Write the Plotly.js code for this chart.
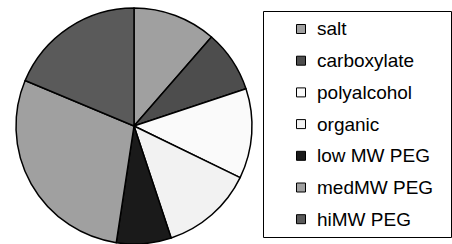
<!DOCTYPE html>
<html>
<head>
<meta charset="utf-8">
<script src="https://cdn.plot.ly/plotly-3.0.1.min.js"></script>
<style>html,body{margin:0;padding:0;background:#fff;overflow:hidden}#chart{width:452px;height:244px}</style>
</head>
<body>
<div id="chart"></div>
<script>
var labels = ["salt", "carboxylate", "polyalcohol", "organic", "low MW PEG", "medMW PEG", "hiMW PEG"];
var values = [11.4, 8.5, 12.3, 12.7, 7.5, 28.9, 18.7];
var colors = ["#a0a0a0", "#4d4d4d", "#fafafa", "#f2f2f2", "#1a1a1a", "#a0a0a0", "#5a5a5a"];

var W = 452, H = 244;
function px(x) { return x / W; }
function py(y) { return 1 - y / H; }

var shapes = [];
var annotations = [];
// legend box
shapes.push({type: "rect", xref: "paper", yref: "paper",
  x0: px(263.5), x1: px(451.5), y0: py(11.5), y1: py(237.5),
  line: {color: "#000", width: 1}, fillcolor: "rgba(0,0,0,0)"});
var top0 = 29, step = 31.7;
for (var i = 0; i < labels.length; i++) {
  var cy = top0 + i * step;
  shapes.push({type: "rect", xref: "paper", yref: "paper",
    x0: px(296.5), x1: px(305.5), y0: py(cy - 4.5), y1: py(cy + 4.5),
    line: {color: "#000", width: 1}, fillcolor: colors[i]});
  annotations.push({xref: "paper", yref: "paper", x: px(315), y: py(cy),
    xanchor: "left", yanchor: "middle", showarrow: false, text: labels[i],
    font: {family: "Liberation Sans, Arial, sans-serif", size: 19, color: "#000"}});
}

var trace = {
  type: "pie",
  labels: labels,
  values: values,
  sort: false,
  direction: "clockwise",
  rotation: 0,
  textinfo: "none",
  hoverinfo: "none",
  showlegend: false,
  marker: {colors: colors, line: {color: "#000", width: 1.5}},
  domain: {x: [px(16), px(252)], y: [0, py(8)]}
};

Plotly.newPlot("chart", [trace], {
  width: W, height: H,
  margin: {l: 0, r: 0, t: 0, b: 0},
  paper_bgcolor: "#fff",
  showlegend: false,
  shapes: shapes,
  annotations: annotations
}, {displayModeBar: false, staticPlot: true});
</script>
</body>
</html>
